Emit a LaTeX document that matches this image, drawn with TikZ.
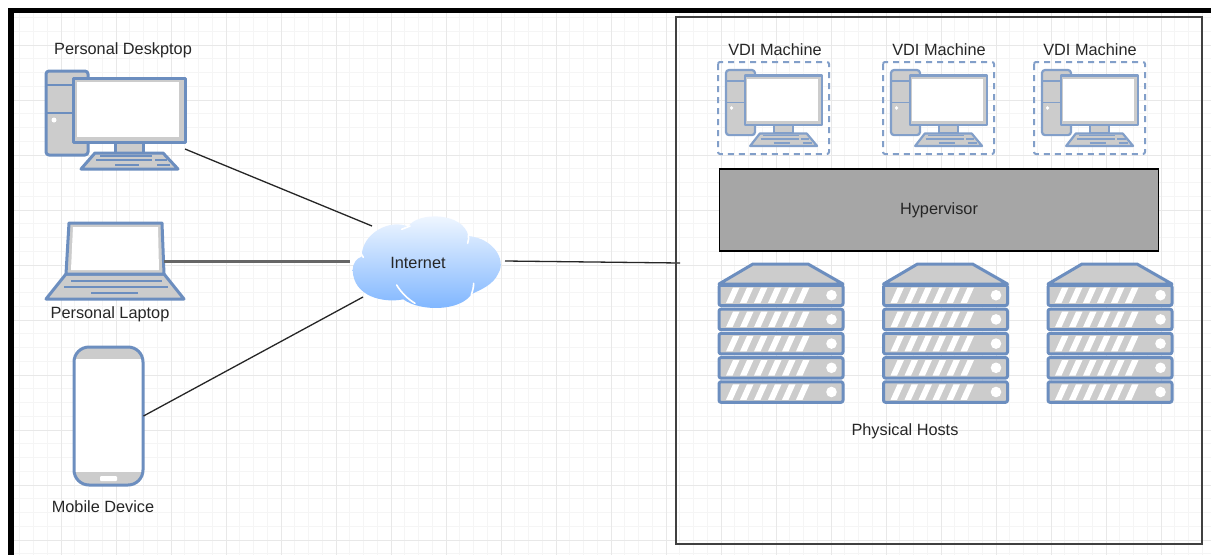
\documentclass[tikz,border=0pt]{standalone}
\usepackage{fontspec}
\setmainfont{Liberation Sans}
\usetikzlibrary{calc}
\definecolor{iconblue}{HTML}{6C8EBF}
\definecolor{icongray}{HTML}{CCCCCC}
\definecolor{cloudtop}{HTML}{F4F9FF}
\definecolor{cloudbottom}{HTML}{7CB4FF}
\tikzset{
	gridminor/.style={line width=0.8pt, color=black!4},
	gridmajor/.style={line width=1pt, color=black!9},
	iconpart/.style={draw=iconblue, fill=icongray, line width=3pt, line join=round},
	iconline/.style={draw=iconblue, line width=2pt},
	iconwhite/.style={fill=white, draw=none},
	vdipart/.style={iconpart/.append style={line width=2.2pt, draw=iconblue!85}, iconline/.append style={line width=1.4pt, draw=iconblue!85}},
	vdibox/.style={draw=iconblue!85, line width=2pt, dash pattern=on 6pt off 5pt, rounded corners=2pt},
	wire/.style={line width=1.3pt, color=black!85},
	txt/.style={font=\fontsize{16.3}{18}\selectfont, text=black!85, inner sep=0pt},
	hitbox/.style={inner sep=0pt, outer sep=0pt}
}
\def\desktopicon[#1](#2)(#3:#4){
	\begin{scope}[shift={(#2)}, xscale=#3, yscale=#4, #1]
		\draw[iconpart, rounded corners=3pt] (0, 0) rectangle (42, 84);
		\draw[iconline] (0, 14) -- (27, 14);
		\draw[iconline] (0, 42) -- (27, 42);
		\fill[iconwhite] (8, 49) circle (2.5);
		\draw[iconpart] (69, 71) rectangle (97, 82);
		\draw[iconpart] (49, 82) -- (117, 82) -- (132, 98) -- (35, 98) -- cycle;
		\draw[iconline] (54, 84.5) -- (106, 84.5);
		\draw[iconline] (50, 89) -- (106, 89) (109, 89) -- (121, 89);
		\draw[iconline] (69, 94) -- (93, 94) (111, 94) -- (124, 94);
		\draw[iconpart] (27, 7) rectangle (139, 71);
		\fill[iconwhite] (31, 11) rectangle (133, 66);
	\end{scope}
}
\def\serverstack(#1){
	\begin{scope}[shift={(#1)}]
		\draw[iconpart] (0, 20) -- (34, 0) -- (89, 0) -- (124, 20) -- cycle;
		\foreach \unity in {21, 45.2, 69.4, 93.6, 117.8}{
			\draw[iconpart, rounded corners=2pt] (0, \unity) rectangle (124, \unity+20.5);
			\foreach \slash in {0, 14, 28, 42, 56, 70}{
				\fill[iconwhite] (7+\slash, \unity+18) -- (14+\slash, \unity+2.5) -- (20.5+\slash, \unity+2.5) -- (13.5+\slash, \unity+18) -- cycle;
			}
			\fill[iconwhite] (112.5, \unity+10.2) circle (5.3);
		}
		\draw[iconblue, line width=4pt] (1, 20.5) -- (123, 20.5);
	\end{scope}
}

\begin{document}
\begin{tikzpicture}[x=1pt, y=-1pt]
	%%%%% START %%%%%
	\useasboundingbox (0, 0) rectangle (1211, 555);
	\fill[white] (0, 0) rectangle (1211, 555);

	% grid
	\foreach \gridx in {19.75,33.5,...,1211}{
		\draw[gridminor] (\gridx, 13) -- (\gridx, 555);
	}
	\foreach \gridy in {17.5,31.25,...,555}{
		\draw[gridminor] (14, \gridy) -- (1211, \gridy);
	}
	\foreach \gridx in {61,116,...,1211}{
		\draw[gridmajor] (\gridx, 13) -- (\gridx, 555);
	}
	\foreach \gridy in {45,100,...,555}{
		\draw[gridmajor] (14, \gridy) -- (1211, \gridy);
	}

	% frame of the screenshot
	\fill[black] (8, 8) rectangle (1211, 13);
	\fill[black] (8, 8) rectangle (14, 555);

	% left side
	\node[txt] (desktoplabel) at (123, 50.5) {Personal Deskptop};
	\desktopicon[](46, 71)(1:1)
	\node[hitbox, minimum width=139pt, minimum height=99pt] (desktop) at (115.5, 119.5) {};

	\draw[iconpart] (66, 274) -- (164, 274) -- (184, 299) -- (46, 299) -- cycle;
	\draw[iconpart] (69, 223) -- (162, 223) -- (164, 274) -- (66, 274) -- cycle;
	\fill[iconwhite] (73, 227) -- (158, 227) -- (159, 270) -- (71, 270) -- cycle;
	\draw[iconline] (71, 281) -- (162, 281);
	\draw[iconline] (64, 287) -- (168, 287);
	\draw[iconline] (91, 293) -- (138, 293);
	\node[hitbox, minimum width=98pt, minimum height=77pt] (laptop) at (115, 261.5) {};
	\node[txt] (laptoplabel) at (110, 314.5) {Personal Laptop};

	\fill[icongray, rounded corners=15pt] (74, 347) rectangle (143, 485);
	\fill[white] (75, 359) rectangle (142, 472);
	\fill[white, rounded corners=1pt] (100, 476) rectangle (117, 481);
	\draw[iconblue, line width=3pt, rounded corners=15pt] (74, 347) rectangle (143, 485);
	\node[hitbox, minimum width=70pt, minimum height=138pt] (mobile) at (108.5, 416) {};
	\node[txt] (mobilelabel) at (103, 507) {Mobile Device};

	% cloud
	\begin{scope}[shift={(330, 200)}, scale=0.3333]
		\shade[top color=cloudtop, bottom color=cloudbottom, draw=none]
			(95, 170) .. controls (95, 100) and (180, 55) .. (235, 80)
			.. controls (260, 35) and (400, 35) .. (415, 108)
			.. controls (490, 115) and (530, 180) .. (505, 220)
			.. controls (490, 255) and (450, 270) .. (425, 282)
			.. controls (390, 335) and (270, 335) .. (220, 298)
			.. controls (160, 310) and (70, 290) .. (68, 210)
			.. controls (68, 190) and (80, 175) .. (95, 170) -- cycle;
		\draw[white, line width=1.6pt, line cap=round] (200, 255) .. controls (215, 280) and (235, 298) .. (255, 310);
		\draw[white, line width=1.6pt, line cap=round] (431, 250) .. controls (431, 262) and (428, 272) .. (424, 284);
		\draw[white, line width=1.6pt, line cap=round] (92, 150) .. controls (92, 158) and (94, 165) .. (100, 172);
		\draw[white, line width=1.6pt, line cap=round] (415, 105) .. controls (417, 112) and (416, 120) .. (413, 130);
		\draw[white, line width=1.6pt, line cap=round] (215, 88) -- (240, 78);
	\end{scope}
	\node[txt] (internet) at (418, 263) {Internet};
	\coordinate (internetnw) at (372, 226);
	\coordinate (internetw) at (350, 261.5);
	\coordinate (internetsw) at (363, 297);
	\coordinate (interneteast) at (505, 261);
	\coordinate (hostport) at (680, 263);

	\draw[wire] (desktop.-23) -- (internetnw);
	\draw[wire, line width=2.2pt, color=black!60] (laptop.east) -- (internetw);
	\draw[wire] (mobile.east) -- (internetsw);
	\draw[wire] (interneteast) -- (hostport);

	% right side
	\node[draw=black!75, line width=1.3pt, hitbox, minimum width=526pt, minimum height=527pt] (hostbox) at (939, 280.5) {};

	\node[txt] (vdilabela) at (775, 50) {VDI Machine};
	\node[txt] (vdilabelb) at (939, 50) {VDI Machine};
	\node[txt] (vdilabelc) at (1090, 50) {VDI Machine};

	\desktopicon[vdipart](726, 70)(0.69:0.775)
	\desktopicon[vdipart](891, 70)(0.69:0.775)
	\desktopicon[vdipart](1042, 70)(0.69:0.775)

	\draw[vdibox] (718, 62) rectangle (829, 154);
	\draw[vdibox] (883, 62) rectangle (994, 154);
	\draw[vdibox] (1034, 62) rectangle (1145, 154);

	\node[txt, draw=black, fill=black!35, line width=1.2pt, minimum width=439pt, minimum height=82pt, text depth=3pt] (hypervisor) at (939, 210) {Hypervisor};

	\serverstack(719, 264)
	\serverstack(883.5, 264)
	\serverstack(1048, 264)

	\node[txt] (hostslabel) at (905, 431) {Physical Hosts};
	%%%%% END %%%%%
\end{tikzpicture}
\end{document}
